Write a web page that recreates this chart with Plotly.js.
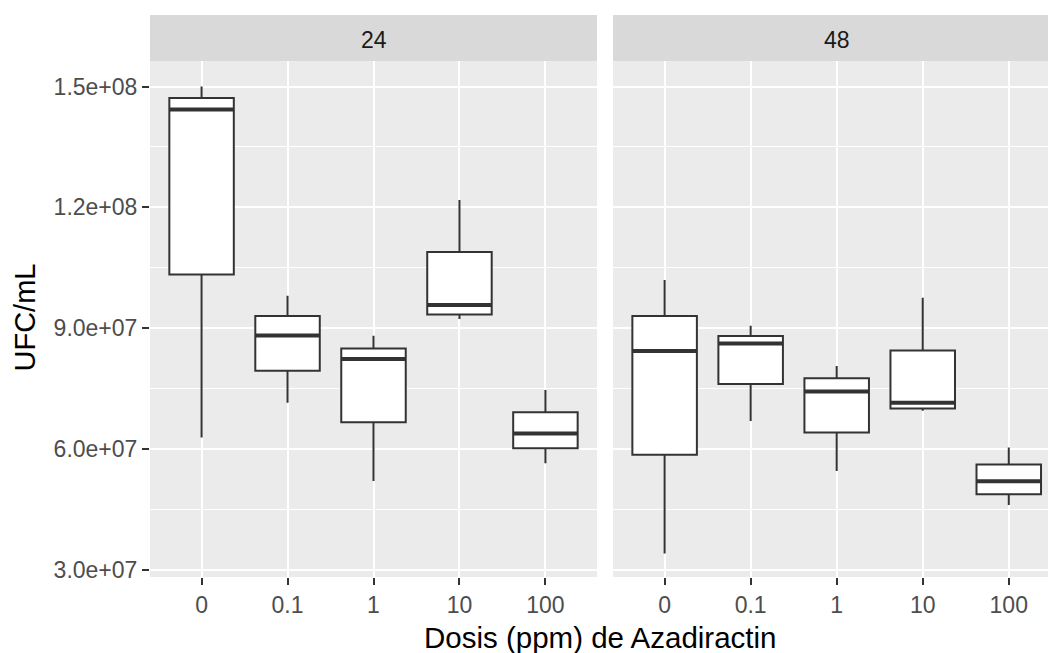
<!DOCTYPE html>
<html>
<head>
<meta charset="utf-8">
<script src="https://cdn.plot.ly/plotly-3.0.1.min.js"></script>
<style>html,body{margin:0;padding:0;background:#fff;}#chart{width:1048px;height:653px;}</style>
</head>
<body>
<div id="chart"></div>
<script>
// Categories (dose, ppm) and facet labels
const doses = ['0', '0.1', '1', '10', '100'];
const facets = ['24', '48'];

// Facet "24" box statistics (UFC/mL)
const lower24 = [6.29e7, 7.15e7, 5.21e7, 9.23e7, 5.65e7];
const q1_24   = [1.0337e8, 7.946e7, 6.664e7, 9.344e7, 6.02e7];
const med24   = [1.443e8, 8.82e7, 8.236e7, 9.576e7, 6.39e7];
const q3_24   = [1.4712e8, 9.303e7, 8.5e7, 1.089e8, 6.912e7];
const upper24 = [1.5e8, 9.807e7, 8.815e7, 1.218e8, 7.467e7];

// Facet "48" box statistics (UFC/mL)
const lower48 = [3.41e7, 6.7e7, 5.457e7, 6.95e7, 4.61e7];
const q1_48   = [5.862e7, 7.615e7, 6.41e7, 7.01e7, 4.88e7];
const med48   = [8.434e7, 8.62e7, 7.43e7, 7.15e7, 5.2e7];
const q3_48   = [9.303e7, 8.806e7, 7.756e7, 8.45e7, 5.62e7];
const upper48 = [1.0196e8, 9.06e7, 8.06e7, 9.76e7, 6.04e7];

// Y tick labels
const yTickVals = [3e7, 6e7, 9e7, 1.2e8, 1.5e8];
const yTickText = ['3.0e+07', '6.0e+07', '9.0e+07', '1.2e+08', '1.5e+08'];
const yMinorVals = [4.5e7, 7.5e7, 1.05e8, 1.35e8];

const xTitle = 'Dosis (ppm) de Azadiractin';
const yTitle = 'UFC/mL';

const pos = doses.map((d, i) => i);
const BOXW = 0.75;
const LINE = '#333333';
const FONT = 'Liberation Sans, Arial, sans-serif';

function boxTrace(lo, q1, med, q3, up, xa, ya) {
  return {
    type: 'box', x: pos, lowerfence: lo, q1: q1, median: med, q3: q3, upperfence: up,
    xaxis: xa, yaxis: ya, width: BOXW, whiskerwidth: 0, boxpoints: false,
    fillcolor: '#ffffff', line: {color: LINE, width: 2}, hoverinfo: 'skip', showlegend: false
  };
}
function medTrace(med, xa, ya) {
  const xs = [], ys = [];
  med.forEach((m, i) => { xs.push(pos[i] - BOXW / 2, pos[i] + BOXW / 2, null); ys.push(m, m, null); });
  return {type: 'scatter', mode: 'lines', x: xs, y: ys, xaxis: xa, yaxis: ya,
    line: {color: LINE, width: 4}, hoverinfo: 'skip', showlegend: false};
}

const data = [
  boxTrace(lower24, q1_24, med24, q3_24, upper24, 'x', 'y'),
  medTrace(med24, 'x', 'y'),
  boxTrace(lower48, q1_48, med48, q3_48, upper48, 'x2', 'y2'),
  medTrace(med48, 'x2', 'y2')
];

const W = 1048, H = 653, L = 150, R = 0, T = 61, B = 76;
const pw = W - L - R, ph = H - T - B;
const d1 = [0, (597 - L) / pw];
const d2 = [(613 - L) / pw, 1];
const yRange = [2.826e7, 1.5633e8];
const stripH = 46 / ph;

const xCommon = {
  tickmode: 'array', tickvals: pos, ticktext: doses,
  ticks: 'outside', ticklen: 7, tickwidth: 2, tickcolor: LINE,
  showgrid: true, gridcolor: '#ffffff', gridwidth: 2, zeroline: false, showline: false,
  tickfont: {family: FONT, size: 23, color: '#4d4d4d'}, fixedrange: true
};
const yCommon = {
  range: yRange, tickmode: 'array', tickvals: yTickVals, ticktext: yTickText,
  showgrid: true, gridcolor: '#ffffff', gridwidth: 2, zeroline: false, showline: false,
  minor: {tickmode: 'array', tickvals: yMinorVals, showgrid: true, gridcolor: '#ffffff', gridwidth: 1, ticks: ''},
  tickfont: {family: FONT, size: 23, color: '#4d4d4d'}, fixedrange: true
};

const layout = {
  width: W, height: H,
  margin: {l: L, r: R, t: T, b: B, pad: 0},
  paper_bgcolor: '#ffffff', plot_bgcolor: '#ebebeb',
  showlegend: false,
  xaxis: Object.assign({}, xCommon, {domain: d1, range: [-0.6, 4.6], anchor: 'y'}),
  xaxis2: Object.assign({}, xCommon, {domain: d2, range: [-0.6, 4.456], anchor: 'y2'}),
  yaxis: Object.assign({}, yCommon, {domain: [0, 1], anchor: 'x',
    ticks: 'outside', ticklen: 7, tickwidth: 2, tickcolor: LINE}),
  yaxis2: Object.assign({}, yCommon, {domain: [0, 1], anchor: 'x2', showticklabels: false, ticks: ''}),
  shapes: [
    {type: 'rect', xref: 'paper', yref: 'paper', x0: d1[0], x1: d1[1], y0: 1, y1: 1 + stripH,
      fillcolor: '#d9d9d9', line: {width: 0}},
    {type: 'rect', xref: 'paper', yref: 'paper', x0: d2[0], x1: d2[1], y0: 1, y1: 1 + stripH,
      fillcolor: '#d9d9d9', line: {width: 0}}
  ],
  annotations: [
    {xref: 'paper', yref: 'paper', x: (d1[0] + d1[1]) / 2, y: 1 + stripH / 2, yshift: -2,
      text: facets[0], showarrow: false, xanchor: 'center', yanchor: 'middle',
      font: {family: FONT, size: 23, color: '#1a1a1a'}},
    {xref: 'paper', yref: 'paper', x: (836.5 - L) / pw, y: 1 + stripH / 2, yshift: -2,
      text: facets[1], showarrow: false, xanchor: 'center', yanchor: 'middle',
      font: {family: FONT, size: 23, color: '#1a1a1a'}},
    {xref: 'paper', yref: 'paper', x: (600 - L) / pw, y: -(637 - T - ph) / ph, yanchor: 'middle',
      text: xTitle, showarrow: false, xanchor: 'center',
      font: {family: FONT, size: 29.5, color: '#000000'}},
    {xref: 'paper', yref: 'paper', x: (24 - L) / pw, y: (H - B - 317.5) / ph, textangle: -90,
      text: yTitle, showarrow: false, xanchor: 'center', yanchor: 'middle',
      font: {family: FONT, size: 29, color: '#000000'}}
  ]
};

Plotly.newPlot('chart', data, layout, {staticPlot: true, displayModeBar: false});
</script>
</body>
</html>
